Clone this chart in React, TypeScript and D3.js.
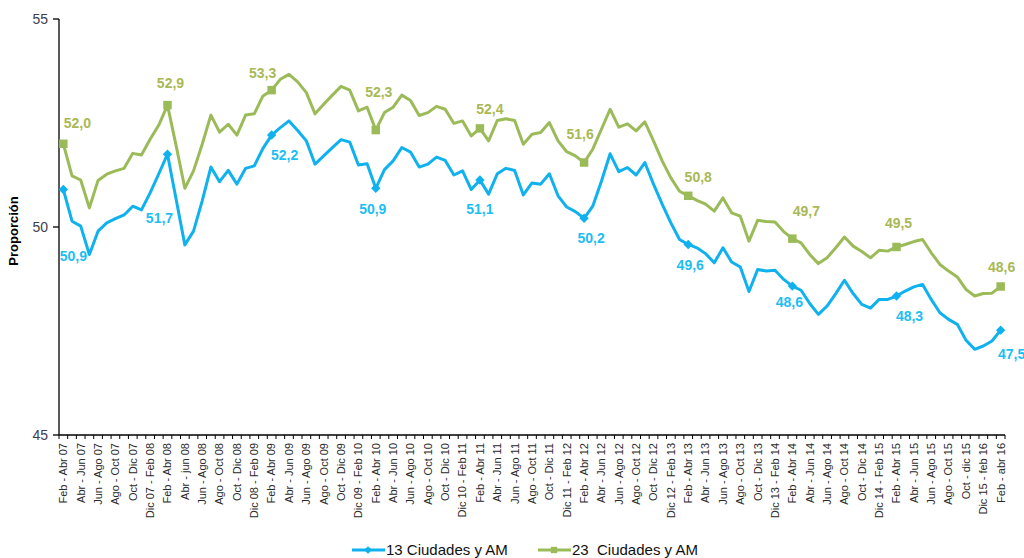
import React, { useEffect, useRef } from 'react';
import * as d3 from 'd3';

// rolling quarters, monthly, Feb-Abr 07 .. Feb-Abr 16 (109 periods), labels every 2nd period
const tickLabels = [
  'Feb - Abr 07', 'Abr - Jun 07', 'Jun - Ago 07', 'Ago - Oct 07', 'Oct - Dic 07', 'Dic 07 - Feb 08',
  'Feb - Abr 08', 'Abr - jun 08', 'Jun - Ago 08', 'Ago - Oct 08', 'Oct - Dic 08', 'Dic 08 - Feb 09',
  'Feb - Abr 09', 'Abr - Jun 09', 'Jun - Ago 09', 'Ago - Oct 09', 'Oct - Dic 09', 'Dic 09 - Feb 10',
  'Feb - Abr 10', 'Abr - Jun 10', 'Jun - Ago 10', 'Ago - Oct 10', 'Oct - Dic 10', 'Dic 10 - Feb 11',
  'Feb - Abr 11', 'Abr - Jun 11', 'Jun - Ago 11', 'Ago - Oct 11', 'Oct - Dic 11', 'Dic 11 - Feb 12',
  'Feb - Abr 12', 'Abr - Jun 12', 'Jun - Ago 12', 'Ago - Oct 12', 'Oct - Dic 12', 'Dic 12 - Feb 13',
  'Feb - Abr 13', 'Abr - Jun 13', 'Jun - Ago 13', 'Ago - Oct 13', 'Oct - Dic 13', 'Dic 13 - Feb 14',
  'Feb - Abr 14', 'Abr - Jun 14', 'Jun - Ago 14', 'Ago - Oct 14', 'Oct - Dic 14', 'Dic 14 - Feb 15',
  'Feb - Abr 15', 'Abr - Jun 15', 'Jun - Ago 15', 'Ago - Oct 15', 'Oct - dic 15', 'Dic 15 - feb 16',
  'Feb - abr 16',
];

const ciudades13 = [
  50.9, 50.14, 50.02, 49.34, 49.9, 50.1, 50.2, 50.29, 50.5, 50.41, 50.82, 51.28,
  51.75, 50.66, 49.57, 49.9, 50.63, 51.44, 51.09, 51.36, 51.03, 51.41, 51.47, 51.89,
  52.21, 52.39, 52.55, 52.32, 52.07, 51.51, 51.71, 51.91, 52.1, 52.04, 51.49, 51.52,
  50.93, 51.38, 51.59, 51.91, 51.8, 51.44, 51.51, 51.68, 51.6, 51.25, 51.35, 50.9,
  51.13, 50.79, 51.28, 51.41, 51.36, 50.77, 51.06, 51.03, 51.28, 50.75, 50.48, 50.37,
  50.21, 50.5, 51.1, 51.76, 51.33, 51.43, 51.25, 51.55, 51.03, 50.55, 50.1, 49.7,
  49.58, 49.5, 49.36, 49.14, 49.5, 49.16, 49.04, 48.45, 48.98, 48.94, 48.96, 48.74,
  48.58, 48.48, 48.16, 47.9, 48.1, 48.4, 48.72, 48.4, 48.14, 48.05, 48.26, 48.26,
  48.34, 48.46, 48.56, 48.62, 48.26, 47.94, 47.78, 47.66, 47.28, 47.06, 47.14, 47.26,
  47.52,
];

const ciudades23 = [
  52.0, 51.23, 51.13, 50.46, 51.12, 51.27, 51.35, 51.41, 51.77, 51.73, 52.11, 52.45,
  52.93, 51.95, 50.93, 51.35, 51.99, 52.69, 52.28, 52.47, 52.21, 52.69, 52.72, 53.15,
  53.29, 53.55, 53.67, 53.49, 53.23, 52.72, 52.95, 53.17, 53.38, 53.29, 52.79, 52.88,
  52.33, 52.75, 52.88, 53.17, 53.04, 52.68, 52.75, 52.9, 52.83, 52.49, 52.55, 52.19,
  52.37, 52.07, 52.56, 52.6, 52.56, 51.99, 52.23, 52.27, 52.51, 52.07, 51.81, 51.71,
  51.55, 51.87, 52.35, 52.83, 52.4, 52.48, 52.31, 52.53, 52.07, 51.59, 51.18, 50.86,
  50.75, 50.64, 50.55, 50.38, 50.7, 50.34, 50.26, 49.66, 50.16, 50.13, 50.12, 49.89,
  49.72, 49.62, 49.34, 49.12, 49.26, 49.5, 49.76, 49.54, 49.41, 49.26, 49.44, 49.42,
  49.52, 49.58, 49.65, 49.7, 49.38, 49.1, 48.94, 48.8, 48.5, 48.34, 48.4, 48.41,
  48.57,
];

// annotated points (one per year, Feb - Abr)
const markedIdx = [0, 12, 24, 36, 48, 60, 72, 84, 96, 108];
const labels13 = ['50,9', '51,7', '52,2', '50,9', '51,1', '50,2', '49,6', '48,6', '48,3', '47,5'];
const labels23 = ['52,0', '52,9', '53,3', '52,3', '52,4', '51,6', '50,8', '49,7', '49,5', '48,6'];
// label offsets from the point, px
const off13 = [[10, 71], [-8, 69], [13, 25], [-3, 26], [0, 34], [7, 25], [2, 26], [-3, 21], [13, 25], [11, 29]];
const off23 = [[14, -16], [3, -17], [-9, -12], [3, -33], [10, -14], [-4, -24], [10, -14], [14, -23], [2, -19], [1, -14]];

const BLUE = '#0FB1EE';
const BLUE_TXT = '#1DBEF3';
const GREEN = '#9BBB59';
const GREEN_TXT = '#A8B955';

// square marker, or a square turned 45deg for the diamond
const marker = (shape, size) => d3.symbol().type(d3.symbolSquare).size(size)();
const markerRot = (shape) => (shape === 'diamond' ? ' rotate(45)' : '');

const App = () => {
  const ref = useRef(null);

  useEffect(() => {
    document.body.style.margin = '0';
    const svg = d3.select(ref.current);
    svg.selectAll('*').remove();

    const left = 59, right = 1005, top = 19, bottom = 435;
    const font = 'Arial, "Liberation Sans", sans-serif';

    const x = d3.scaleBand().domain(d3.range(ciudades13.length)).range([left, right]);
    const cx = (i) => x(i) + x.bandwidth() / 2;
    const y = d3.scaleLinear().domain([45, 55]).range([bottom, top]);

    // y axis
    svg.append('line').attr('x1', left).attr('x2', left).attr('y1', top).attr('y2', bottom)
      .attr('stroke', '#000').attr('stroke-width', 1.3);
    [45, 50, 55].forEach((t) => {
      svg.append('line').attr('x1', left - 6).attr('x2', left).attr('y1', y(t)).attr('y2', y(t))
        .attr('stroke', '#000').attr('stroke-width', 1.3);
      svg.append('text').attr('x', left - 11).attr('y', y(t)).attr('dy', '0.35em')
        .attr('text-anchor', 'end').style('font', `14px ${font}`).style('fill', '#404050').text(t);
    });
    svg.append('text')
      .attr('transform', `translate(18,${(top + bottom) / 2 + 4}) rotate(-90)`)
      .attr('text-anchor', 'middle').style('font', `bold 13px ${font}`).style('fill', '#000')
      .text('Proporción');

    // x axis
    svg.append('line').attr('x1', left).attr('x2', right).attr('y1', bottom).attr('y2', bottom)
      .attr('stroke', '#000').attr('stroke-width', 1.3);
    d3.range(ciudades13.length + 1).forEach((i) => {
      const xx = left + i * x.bandwidth();
      svg.append('line').attr('x1', xx).attr('x2', xx).attr('y1', bottom).attr('y2', bottom + 4)
        .attr('stroke', '#000').attr('stroke-width', 1);
    });
    tickLabels.forEach((lab, k) => {
      const i = k * 2;
      svg.append('text')
        .attr('transform', `translate(${cx(i)},${bottom + 8}) rotate(-90)`)
        .attr('text-anchor', 'end').attr('dy', '0.35em')
        .style('font', `11px ${font}`).style('fill', '#2a2a2a')
        .text(lab);
    });

    const line = d3.line().x((d, i) => cx(i)).y((d) => y(d));

    const series = [
      { data: ciudades23, color: GREEN, txt: GREEN_TXT, labels: labels23, off: off23, shape: 'square' },
      { data: ciudades13, color: BLUE, txt: BLUE_TXT, labels: labels13, off: off13, shape: 'diamond' },
    ];

    series.forEach((s) => {
      svg.append('path').datum(s.data).attr('d', line)
        .attr('fill', 'none').attr('stroke', s.color).attr('stroke-width', 3)
        .attr('stroke-linejoin', 'round');
      markedIdx.forEach((i, k) => {
        svg.append('path').attr('d', marker(s.shape, s.shape === 'square' ? 72 : 44))
          .attr('transform', `translate(${cx(i)},${y(s.data[i])})${markerRot(s.shape)}`)
          .attr('fill', s.color);
        svg.append('text')
          .attr('x', cx(i) + s.off[k][0]).attr('y', y(s.data[i]) + s.off[k][1])
          .attr('text-anchor', 'middle')
          .style('font', `bold 14px ${font}`).style('fill', s.txt)
          .text(s.labels[k]);
      });
    });

    // legend
    const legend = [
      { name: '13 Ciudades y AM', color: BLUE, shape: 'diamond', x: 352 },
      { name: '23  Ciudades y AM', color: GREEN, shape: 'square', x: 538 },
    ];
    legend.forEach((l) => {
      const g = svg.append('g').attr('transform', `translate(${l.x},550)`);
      g.append('line').attr('x1', 0).attr('x2', 33).attr('stroke', l.color).attr('stroke-width', 3);
      g.append('path')
        .attr('d', marker(l.shape, l.shape === 'square' ? 40 : 30))
        .attr('transform', `translate(16,0)${markerRot(l.shape)}`).attr('fill', l.color);
      g.append('text').attr('x', 34).attr('y', 5)
        .style('font', `15px ${font}`).style('fill', '#111')
        .style('white-space', 'pre').attr('xml:space', 'preserve')
        .text(l.name);
    });
  }, []);

  return <svg ref={ref} width={1024} height={558} style={{ display: 'block', background: '#fff' }} />;
};

export default App;
